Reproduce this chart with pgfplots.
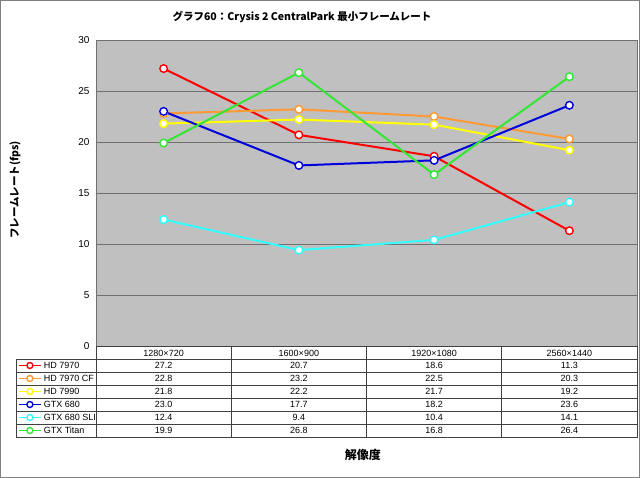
\documentclass[border=0pt]{standalone}
\usepackage{pgfplots}
\pgfplotsset{compat=1.18}
\usepackage{pgfplotstable}
\usepackage{fontspec}
\setmainfont{Liberation Sans}
\newfontfamily\cjk{Noto Sans CJK JP}

\definecolor{cRed}{HTML}{FF0000}
\definecolor{cOrange}{HTML}{FF9933}
\definecolor{cYellow}{HTML}{FFFF00}
\definecolor{cBlue}{HTML}{0000DD}
\definecolor{cCyan}{HTML}{33FFFF}
\definecolor{cGreen}{HTML}{33E633}
\definecolor{plotbg}{HTML}{C0C0C0}
\definecolor{gridc}{HTML}{707070}

% minimum fps per resolution (0=1280x720, 1=1600x900, 2=1920x1080, 3=2560x1440)
\pgfplotstableread{
x hd7970 hd7970cf hd7990 gtx680 gtx680sli titan
0 27.2 22.8 21.8 23.0 12.4 19.9
1 20.7 23.2 22.2 17.7 9.4 26.8
2 18.6 22.5 21.7 18.2 10.4 16.8
3 11.3 20.3 19.2 23.6 14.1 26.4
}\fpsdata

\pgfplotsset{
  ser/.style={line width=2pt, mark=*, mark size=3.8pt,
    mark options={fill=white, line width=1.4pt}},
  cell/.style={mark=none, draw=none, nodes near coords, point meta=explicit,
    every node near coord/.append style={text=black, anchor=center,
      font=\fontsize{9}{10}\selectfont}},
}

\begin{document}
\begin{tikzpicture}
\useasboundingbox (0pt,0pt) rectangle (640pt,478pt);
\draw[gray, line width=1pt] (0.5pt,0.5pt) rectangle (639.5pt,477.5pt);

\begin{axis}[
  name=main,
  at={(96pt,132pt)}, anchor=south west,
  scale only axis, width=541pt, height=306pt,
  xmin=-0.5, xmax=3.5, ymin=0, ymax=30,
  ytick={0,5,...,30},
  xtick={0,1,2,3},
  xticklabels={1280×720,1600×900,1920×1080,2560×1440},
  xticklabel style={anchor=center, yshift=-7pt, font=\fontsize{9}{10}\selectfont},
  yticklabel style={font=\fontsize{10}{12}\selectfont, xshift=-3pt},
  /pgf/number format/assume math mode=true,
  major tick length=0pt,
  ymajorgrids, grid style={gridc, line width=0.8pt},
  axis line style={gridc, line width=0.8pt},
  axis background/.style={fill=plotbg},
  clip=false,
  title={\cjk\bfseries グラフ60：Crysis 2 CentralPark 最小フレームレート},
  title style={at={(axis description cs:0.3808,1.0556)}, anchor=center,
    font=\fontsize{10.5}{12}\selectfont},
  ylabel={\cjk\bfseries フレームレート(fps)},
  ylabel style={at={(axis description cs:-0.1497,0.51)}, anchor=center,
    font=\fontsize{10.5}{12}\selectfont},
  xlabel={\cjk\bfseries 解像度},
  xlabel style={at={(axis description cs:0.4935,-0.3562)}, anchor=center,
    font=\fontsize{12}{14}\selectfont},
  legend style={at={(axis description cs:-0.14418,-0.0474)}, anchor=north west,
    draw=none, fill=none, inner sep=0pt, outer sep=0pt, row sep=0pt,
    column sep=2pt,
    font=\fontsize{9}{10}\selectfont,
    nodes={inner sep=0pt, text height=8.5pt, text depth=4.5pt}},
  legend cell align=left,
  legend image code/.code={\draw[mark repeat=2, mark phase=2, yshift=1.5pt,
    mark size=3pt, line width=1.8pt]
    plot coordinates {(0pt,0pt) (11pt,0pt) (22pt,0pt)};},
]
\addplot[ser, cRed] table[x=x, y=hd7970] {\fpsdata};
\addplot[ser, cOrange] table[x=x, y=hd7970cf] {\fpsdata};
\addplot[ser, cYellow] table[x=x, y=hd7990] {\fpsdata};
\addplot[ser, cBlue] table[x=x, y=gtx680] {\fpsdata};
\addplot[ser, cCyan] table[x=x, y=gtx680sli] {\fpsdata};
\addplot[ser, cGreen] table[x=x, y=titan] {\fpsdata};
\legend{HD 7970, HD 7970 CF, HD 7990, GTX 680, GTX 680 SLI, GTX Titan}
\end{axis}

% data table below the chart
\begin{axis}[
  at={(96pt,41pt)}, anchor=south west,
  scale only axis, width=541pt, height=91pt,
  xmin=-0.5, xmax=3.5, ymin=0, ymax=7,
  xtick={0.5,1.5,2.5}, ytick={1,...,6},
  xticklabels={}, yticklabels={},
  major tick length=0pt,
  grid=major, grid style={black!75, line width=0.6pt},
  axis line style={black!75, line width=0.6pt},
  /pgf/number format/.cd, fixed, fixed zerofill, precision=1, assume math mode=true,
]
\addplot[cell] table[x=x, y expr=5.5, meta=hd7970] {\fpsdata};
\addplot[cell] table[x=x, y expr=4.5, meta=hd7970cf] {\fpsdata};
\addplot[cell] table[x=x, y expr=3.5, meta=hd7990] {\fpsdata};
\addplot[cell] table[x=x, y expr=2.5, meta=gtx680] {\fpsdata};
\addplot[cell] table[x=x, y expr=1.5, meta=gtx680sli] {\fpsdata};
\addplot[cell] table[x=x, y expr=0.5, meta=titan] {\fpsdata};
\end{axis}
\draw[black!75, line width=0.6pt] (16pt,41pt) rectangle (96pt,119pt);
\foreach \k in {1,...,5} \draw[black!75, line width=0.6pt] (16pt,41pt+13pt*\k) -- (96pt,41pt+13pt*\k);
\end{tikzpicture}
\end{document}
